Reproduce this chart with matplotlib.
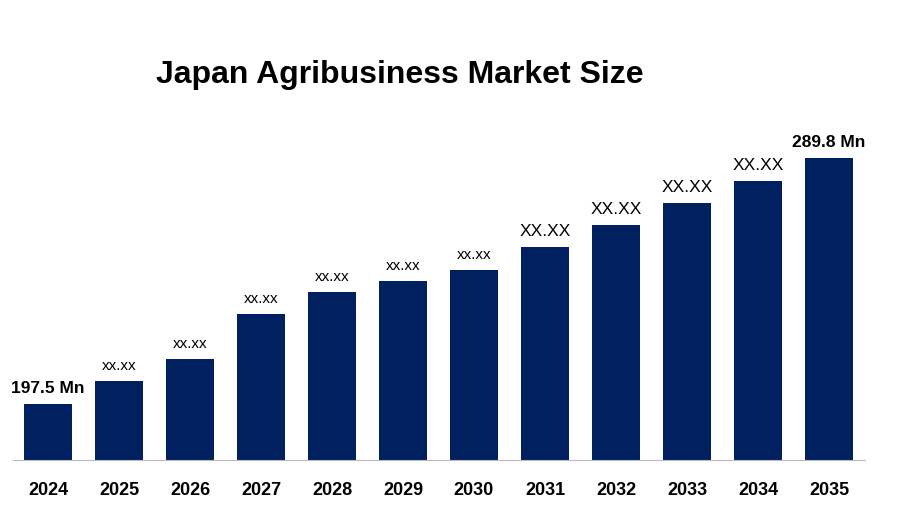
import matplotlib
matplotlib.use("Agg")
import matplotlib.pyplot as plt

years = ["2024","2025","2026","2027","2028","2029","2030","2031","2032","2033","2034","2035"]
values = [197.5, 206.1, 214.4, 231.3, 239.5, 243.7, 247.8, 256.4, 264.7, 272.9, 281.2, 289.8]
labels = ["197.5 Mn","xx.xx","xx.xx","xx.xx","xx.xx","xx.xx","xx.xx","XX.XX","XX.XX","XX.XX","XX.XX","289.8 Mn"]

W, H = 898, 520
fig = plt.figure(figsize=(W/100, H/100), dpi=100)
ax = fig.add_axes([12.5/W, (H-460)/H, 852/W, 360/H])
bottom = 176.5
ax.bar(range(len(years)), [v-bottom for v in values], bottom=bottom, width=0.68, color="#00205f")
ax.set_xlim(-0.5, 11.5)
ax.set_ylim(bottom, bottom+360/2.665)
for s in ["top","right","left"]:
    ax.spines[s].set_visible(False)
ax.spines["bottom"].set_color("#bbbbbb")
ax.set_yticks([])
ax.set_xticks(range(len(years)))
ax.set_xticklabels(years, fontsize=13, fontweight="bold", family="Liberation Sans")
ax.tick_params(axis="x", length=0, pad=16)
for i, (v, l) in enumerate(zip(values, labels)):
    if i in (0, len(values)-1):
        kw = dict(fontsize=12.5, fontweight="bold")
    elif l.startswith("X"):
        kw = dict(fontsize=12.5)
    else:
        kw = dict(fontsize=11)
    ax.text(i, v + 3, l, ha="center", va="bottom", family="Liberation Sans", **kw)
fig.text(400/W, 1-75/H, "Japan Agribusiness Market Size", ha="center", va="center",
         fontsize=23, fontweight="bold", family="Liberation Sans")
fig.savefig("out.png", dpi=100)
